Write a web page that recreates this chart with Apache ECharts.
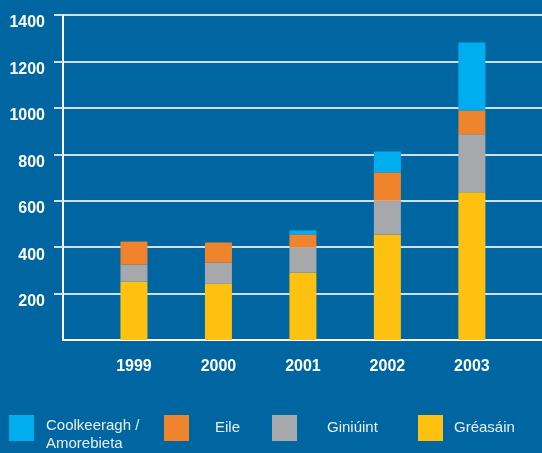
<!DOCTYPE html>
<html>
<head>
<meta charset="utf-8">
<script src="https://cdn.jsdelivr.net/npm/echarts@6/dist/echarts.min.js"></script>
<style>
  html, body { margin: 0; padding: 0; background: #0066a2; }
  #chart { width: 542px; height: 453px; }
</style>
</head>
<body>
<div id="chart"></div>
<script>
const years = ['1999', '2000', '2001', '2002', '2003']
const greasain = [252, 242, 291, 455, 636]
const giniuint = [73, 92, 108, 146, 250]
const eile = [99, 86, 56, 121, 103]
const coolkeeragh = [0, 0, 17, 90, 293]
const yTicks = [200, 400, 600, 800, 1000, 1200, 1400]

const chart = echarts.init(document.getElementById('chart'))
const font = '"Liberation Sans", Arial, sans-serif'

// value first so the stack is done on the value, x position second
function pts(values) {
    return values.map((v, i) => [v, i])
}

function makeSeries(name, values, color) {
    return {
        name: name,
        type: 'bar',
        stack: 'total',
        barWidth: 27,
        data: pts(values),
        encode: { x: 1, y: 0 },
        itemStyle: { color: color },
        emphasis: { disabled: true }
    }
}

function makeLegend(name, left, top, pad) {
    return {
        data: [name],
        left: left,
        top: top,
        padding: 0,
        itemWidth: 25,
        itemHeight: 26,
        icon: 'rect',
        selectedMode: false,
        textStyle: {
            color: '#e8eff6',
            fontFamily: font,
            fontSize: 15,
            lineHeight: 18,
            padding: pad
        }
    }
}

// first legend has two lines, pushed down a little with a short blank line
let coolLegend = makeLegend('Coolkeeragh /\nAmorebieta', 9, 403, [0, 0, 0, 7])
coolLegend.formatter = name => '{s| }\n' + name.split('\n').map(t => '{t|' + t + '}').join('\n')
coolLegend.textStyle.rich = {
    s: { fontSize: 10, lineHeight: 14 },
    t: { color: '#e8eff6', fontFamily: font, fontSize: 15, lineHeight: 18 }
}

let option = {
    backgroundColor: '#0066a2',
    animation: false,
    grid: {
        left: 63,
        right: 0,
        top: 15,
        bottom: 113
    },
    xAxis: {
        type: 'value',
        min: -0.84,
        max: 4.83,
        splitLine: { show: false },
        axisLine: { show: true, onZero: false, lineStyle: { color: '#ffffff', width: 2 } },
        axisTick: { show: false },
        axisLabel: {
            customValues: [0, 1, 2, 3, 4],
            formatter: v => years[Math.round(v)],
            color: '#ffffff',
            fontFamily: font,
            fontWeight: 'bold',
            fontSize: 16,
            margin: 19
        }
    },
    yAxis: {
        type: 'value',
        min: 0,
        max: 1400,
        interval: 200,
        axisLine: { show: true, onZero: false, lineStyle: { color: '#ffffff', width: 2 } },
        axisTick: {
            show: true,
            customValues: yTicks,
            length: 9,
            lineStyle: { color: '#d0dfeb', width: 2 }
        },
        splitLine: { lineStyle: { color: '#d0dfeb', width: 2 } },
        axisLabel: {
            customValues: yTicks,
            formatter: v => String(v),
            color: '#ffffff',
            fontFamily: font,
            fontWeight: 'bold',
            fontSize: 16,
            margin: 18,
            verticalAlign: 'top'
        }
    },
    legend: [
        coolLegend,
        makeLegend('Eile', 164, 415, [0, 0, 0, 21]),
        makeLegend('Giniúint', 272, 415, [0, 0, 0, 25]),
        makeLegend('Gréasáin', 418, 415, [0, 0, 0, 6])
    ],
    series: [
        makeSeries('Gréasáin', greasain, '#fec10f'),
        makeSeries('Giniúint', giniuint, '#a6a8ab'),
        makeSeries('Eile', eile, '#f0842c'),
        makeSeries('Coolkeeragh /\nAmorebieta', coolkeeragh, '#00adee')
    ]
}

chart.setOption(option)
</script>
</body>
</html>
